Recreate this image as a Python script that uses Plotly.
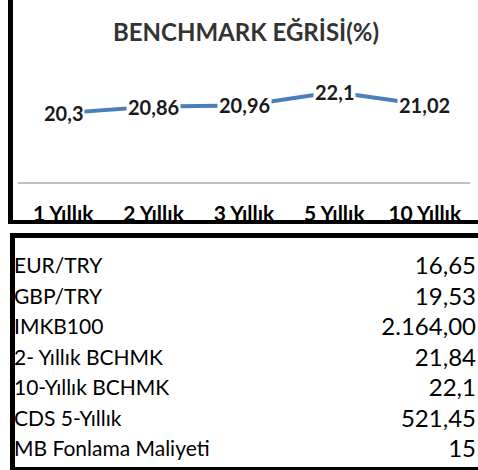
import plotly.graph_objects as go

# ---- data ----
categories = ["1 Yıllık", "2 Yıllık", "3 Yıllık", "5 Yıllık", "10 Yıllık"]
benchmark = [20.3, 20.86, 20.96, 22.1, 21.02]
benchmark_labels = ["20,3", "20,86", "20,96", "22,1", "21,02"]

table_names = ["EUR/TRY", "GBP/TRY", "IMKB100", "2- Yıllık BCHMK",
               "10-Yıllık BCHMK", "CDS 5-Yıllık", "MB Fonlama Maliyeti"]
table_values = ["16,65", "19,53", "2.164,00", "21,84", "22,1", "521,45", "15"]
row_index = list(range(len(table_names)))

W, H = 478, 470
FONT = "Lato"


def px(x):
    return x / W


def py(y):
    return 1 - y / H


fig = go.Figure()

# benchmark line
fig.add_trace(go.Scatter(
    x=categories, y=benchmark, mode="lines",
    line=dict(color="#4a7ebb", width=4),
    xaxis="x", yaxis="y", hoverinfo="skip", showlegend=False))

# data labels with white background masking the line
for c, v, t in zip(categories, benchmark, benchmark_labels):
    fig.add_annotation(x=c, y=v, xref="x", yref="y", text=t, showarrow=False,
                       bgcolor="white", borderpad=1,
                       font=dict(family=FONT, size=20, color="#1a1a1a", weight="bold"))

# table (names left, values right)
fig.add_trace(go.Scatter(
    x=[0] * len(table_names), y=row_index, text=table_names, mode="text",
    textposition="middle right", textfont=dict(family=FONT, size=21, color="black"),
    xaxis="x2", yaxis="y2", hoverinfo="skip", showlegend=False))
fig.add_trace(go.Scatter(
    x=[1] * len(table_values), y=row_index, text=table_values, mode="text",
    textposition="middle left", textfont=dict(family=FONT, size=24, color="black"),
    xaxis="x2", yaxis="y2", hoverinfo="skip", showlegend=False))

shapes = [
    # top chart frame
    dict(type="rect", xref="paper", yref="paper", x0=px(8), x1=px(13), y0=py(224), y1=py(0),
         fillcolor="black", line_width=0),
    dict(type="rect", xref="paper", yref="paper", x0=px(8), x1=px(480), y0=py(224), y1=py(220),
         fillcolor="black", line_width=0),
    # table frame
    dict(type="rect", xref="paper", yref="paper", x0=px(10), x1=px(15), y0=py(470), y1=py(233),
         fillcolor="black", line_width=0),
    dict(type="rect", xref="paper", yref="paper", x0=px(10), x1=px(480), y0=py(238), y1=py(233),
         fillcolor="black", line_width=0),
    dict(type="rect", xref="paper", yref="paper", x0=px(10), x1=px(480), y0=py(471), y1=py(467),
         fillcolor="black", line_width=0),
]

fig.update_layout(
    width=W, height=H, margin=dict(l=0, r=0, t=0, b=0),
    paper_bgcolor="white", plot_bgcolor="white",
    title=dict(text="BENCHMARK EĞRİSİ(%)", x=px(246), y=py(33), xanchor="center", yanchor="middle",
               xref="paper", yref="paper",
               font=dict(family=FONT, size=24, color="#333333", weight="bold")),
    xaxis=dict(domain=[px(18), px(470)], range=[-0.5, 4.5], showgrid=False, zeroline=False,
               showline=True, linecolor="#c0c0c0", linewidth=2, ticks="",
               ticklabelstandoff=12,
               tickfont=dict(family=FONT, size=21, color="black", weight="bold"),
               fixedrange=True),
    yaxis=dict(domain=[py(182), py(60)], range=[14.4, 24.85], showgrid=False, zeroline=False,
               showticklabels=False, showline=False, fixedrange=True),
    xaxis2=dict(domain=[px(14), px(476)], range=[0, 1], visible=False, anchor="y2"),
    yaxis2=dict(domain=[py(466.25), py(252.75)], range=[6.5, -0.5], visible=False, anchor="x2"),
    shapes=shapes,
)

fig.write_html("out.html")
